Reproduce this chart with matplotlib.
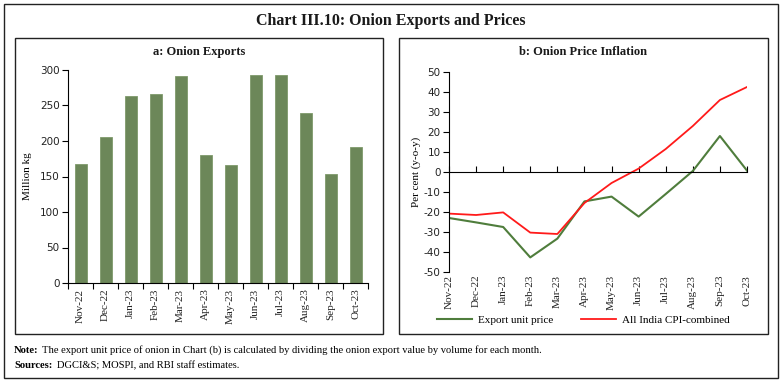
import matplotlib
matplotlib.use("Agg")
import matplotlib.pyplot as plt
from matplotlib.patches import Rectangle
from matplotlib.lines import Line2D

months = ["Nov-22", "Dec-22", "Jan-23", "Feb-23", "Mar-23", "Apr-23",
          "May-23", "Jun-23", "Jul-23", "Aug-23", "Sep-23", "Oct-23"]
exports_mkg = [167, 205, 263, 266, 291, 180, 166, 293, 293, 239, 154, 192]
export_unit_price = [-23.0, -25.2, -27.5, -42.7, -33.3, -14.7, -12.3, -22.3, -11.0, 0.5, 18.0, 0.7]
cpi_combined = [-20.8, -21.5, -20.2, -30.3, -31.0, -15.5, -5.5, 1.7, 11.5, 23.0, 36.0, 42.5]
left_yticks = [0, 50, 100, 150, 200, 250, 300]
right_yticks = [-50, -40, -30, -20, -10, 0, 10, 20, 30, 40, 50]

SERIF = ["Liberation Serif", "DejaVu Serif"]
SANS = ["DejaVu Sans"]
W, H = 783, 384
fig = plt.figure(figsize=(W / 100, H / 100), dpi=100)

def fx(px):
    return px / W

def fy(py):
    return 1 - py / H

# outer frame and panel boxes
fig.add_artist(Rectangle((fx(4), fy(378)), fx(774), (378 - 4) / H, fill=False,
                         lw=1.0, edgecolor="#222222", transform=fig.transFigure))
fig.add_artist(Rectangle((fx(15), fy(334)), fx(368), (334 - 38) / H, fill=False,
                         lw=1.0, edgecolor="#222222", transform=fig.transFigure))
fig.add_artist(Rectangle((fx(399), fy(334)), fx(369), (334 - 38) / H, fill=False,
                         lw=1.0, edgecolor="#222222", transform=fig.transFigure))

fig.text(fx(391), fy(21), "Chart III.10: Onion Exports and Prices", ha="center", va="center",
         fontsize=11.5, family=SERIF, fontweight="bold", color="#1a1a1a")
fig.text(fx(199), fy(52), "a: Onion Exports", ha="center", va="center",
         fontsize=9, family=SERIF, fontweight="bold", color="#1a1a1a")
fig.text(fx(583), fy(52), "b: Onion Price Inflation", ha="center", va="center",
         fontsize=9, family=SERIF, fontweight="bold", color="#1a1a1a")

# left: bar chart
ax1 = fig.add_axes([fx(68), fy(283), fx(300), (283 - 70) / H])
x = range(len(months))
ax1.bar(x, exports_mkg, width=0.48, color="#6c8759", edgecolor="#7f9a6b", linewidth=0.6)
ax1.set_xlim(-0.5, len(months) - 0.5)
ax1.set_ylim(0, 300)
ax1.set_yticks(left_yticks)
ax1.set_yticklabels([str(v) for v in left_yticks], family=SANS, fontsize=7.5, color="#222222")
ax1.set_xticks([i - 0.5 for i in range(len(months) + 1)], minor=False)
ax1.set_xticklabels([""] * (len(months) + 1))
ax1.set_xticks(list(x), minor=True)
ax1.set_xticklabels(months, minor=True, rotation=90, family=SERIF, fontsize=8, color="#222222")
ax1.tick_params(axis="x", which="minor", length=0, pad=4)
ax1.tick_params(axis="x", which="major", length=4, direction="out", width=0.8)
ax1.tick_params(axis="y", length=4, direction="out", width=0.8, pad=2)
for s in ["top", "right"]:
    ax1.spines[s].set_visible(False)
for s in ["left", "bottom"]:
    ax1.spines[s].set_linewidth(0.8)
ax1.set_ylabel("Million kg", family=SERIF, fontsize=8, labelpad=6)

# right: line chart
ax2 = fig.add_axes([fx(449), fy(272), fx(298), (272 - 72) / H])
ax2.plot(x, export_unit_price, color="#4f7d3c", lw=1.5, label="Export unit price")
ax2.plot(x, cpi_combined, color="#ff1a1a", lw=1.3, label="All India CPI-combined")
ax2.set_xlim(0, len(months) - 1)
ax2.set_ylim(-50, 50)
ax2.set_yticks(right_yticks)
ax2.set_yticklabels([str(v) for v in right_yticks], family=SANS, fontsize=7.5, color="#222222")
ax2.tick_params(axis="y", length=4, direction="out", width=0.8, pad=2)
ax2.spines["bottom"].set_position(("data", 0))
ax2.spines["bottom"].set_linewidth(0.8)
ax2.spines["left"].set_linewidth(0.8)
for s in ["top", "right"]:
    ax2.spines[s].set_visible(False)
ax2.set_xticks(list(x))
ax2.set_xticklabels([""] * len(months))
ax2.tick_params(axis="x", length=4, direction="in", width=0.8)
sec = ax2.secondary_xaxis("bottom")
sec.set_xticks(list(x))
sec.set_xticklabels(months, rotation=90, family=SERIF, fontsize=8, color="#222222")
sec.tick_params(length=0, pad=2)
sec.spines["bottom"].set_visible(False)
ax2.set_ylabel("Per cent (y-o-y)", family=SERIF, fontsize=8, labelpad=2)

handles = [Line2D([], [], color="#4f7d3c", lw=1.5), Line2D([], [], color="#ff1a1a", lw=1.3)]
fig.legend(handles, ["Export unit price", "All India CPI-combined"], loc="center",
           bbox_to_anchor=(fx(583), fy(320)), ncol=2, frameon=False,
           prop={"family": SERIF, "size": 8}, handlelength=3.2, columnspacing=2.5,
           handletextpad=0.5)

fig.text(fx(14), fy(353), "Note:", fontsize=7.6, family=SERIF, va="baseline", fontweight="bold")
fig.text(fx(42), fy(353),
         "The export unit price of onion in Chart (b) is calculated by dividing the onion export value by volume for each month.",
         fontsize=7.6, family=SERIF, va="baseline")
fig.text(fx(14), fy(368), "Sources:", fontsize=7.6, family=SERIF, va="baseline", fontweight="bold")
fig.text(fx(57), fy(368), "DGCI&S; MOSPI, and RBI staff estimates.", fontsize=7.6, family=SERIF,
         va="baseline")

fig.savefig("out.png", dpi=100)
